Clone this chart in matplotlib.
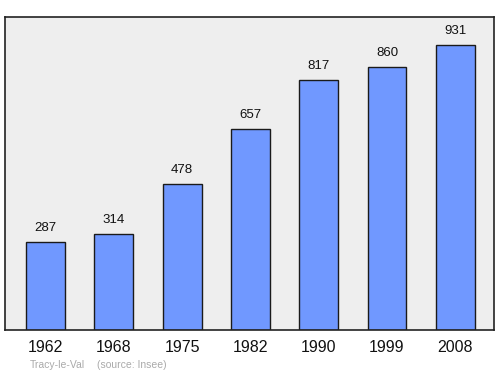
import matplotlib
matplotlib.use("Agg")
import matplotlib.pyplot as plt

years = ["1962", "1968", "1975", "1982", "1990", "1999", "2008"]
population = [287, 314, 478, 657, 817, 860, 931]
commune = "Tracy-le-Val"
source = "(source: Insee)"

plt.rcParams["font.family"] = ["Liberation Sans", "DejaVu Sans"]

W, H = 500, 374
fig = plt.figure(figsize=(W / 100, H / 100), dpi=100)
ax = fig.add_axes([5 / W, (H - 330) / H, 489 / W, 313 / H])
ax.set_facecolor("#eeeeee")

positions = list(range(len(years)))
ax.bar(positions, population, width=0.57, color="#7098ff",
       edgecolor="#1a1a1a", linewidth=1.0)
for x, v in zip(positions, population):
    ax.annotate(str(v), (x, v), xytext=(0, 5.5), textcoords="offset points",
                ha="center", va="bottom", fontsize=9.5, color="#111111")

ax.set_xlim(-0.593, 6.567)
ax.set_ylim(0, 1022)
ax.set_yticks([])
ax.set_xticks(positions)
ax.set_xticklabels(years, fontsize=11.5, color="#111111")
ax.tick_params(axis="x", length=0, pad=7)
for s in ax.spines.values():
    s.set_color("#222222")
    s.set_linewidth(1.2)

fig.text(30 / W, 1 - 365 / H, commune, fontsize=7.5, color="#aaaaaa",
         ha="left", va="center")
fig.text(97 / W, 1 - 365 / H, source, fontsize=7.5, color="#aaaaaa",
         ha="left", va="center")

fig.savefig("out.png", dpi=100)
